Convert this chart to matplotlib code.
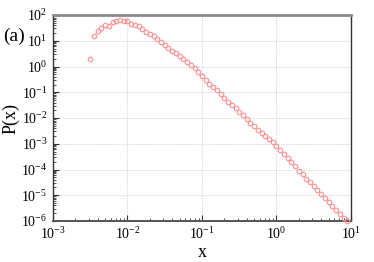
import matplotlib
matplotlib.use("Agg")
import matplotlib.pyplot as plt
from matplotlib.ticker import LogLocator, NullFormatter

plt.rcParams['font.family'] = ['Liberation Serif', 'DejaVu Serif']
plt.rcParams['mathtext.fontset'] = 'custom'
plt.rcParams['mathtext.rm'] = 'Liberation Serif'
plt.rcParams['mathtext.it'] = 'Liberation Serif:italic'

# log-binned distribution
x = [0.00316, 0.00355, 0.00398, 0.00447, 0.00501, 0.00562, 0.00631, 0.00708, 0.00794, 0.00891,
     0.0100, 0.0112, 0.0126, 0.0141, 0.0158, 0.0178, 0.0200, 0.0224, 0.0251, 0.0282,
     0.0316, 0.0355, 0.0398, 0.0447, 0.0501, 0.0562, 0.0631, 0.0708, 0.0794, 0.0891,
     0.100, 0.112, 0.126, 0.141, 0.158, 0.178, 0.200, 0.224, 0.251, 0.282,
     0.316, 0.355, 0.398, 0.447, 0.501, 0.562, 0.631, 0.708, 0.794, 0.891,
     1.00, 1.12, 1.26, 1.41, 1.58, 1.78, 2.00, 2.24, 2.51, 2.82,
     3.16, 3.55, 3.98, 4.47, 5.01, 5.62, 6.31, 7.08, 7.94, 8.91]
p = [1.91, 15.7, 23.9, 31.3, 40.9, 37.4, 55.0, 60.1, 64.0, 60.1,
     58.5, 44.7, 40.9, 36.4, 29.4, 22.4, 18.8, 14.9, 11.4, 8.71,
     6.65, 5.09, 4.11, 3.26, 2.49, 1.91, 1.50, 1.14, 0.851, 0.611,
     0.428, 0.299, 0.209, 0.156, 0.119, 0.0855, 0.0598, 0.0430, 0.0320, 0.0238,
     0.0171, 0.0131, 0.00914, 0.00658, 0.00489, 0.00352, 0.00269, 0.00200, 0.00153, 0.00114,
     8.51e-4, 5.89e-4, 4.07e-4, 2.82e-4, 1.95e-4, 1.32e-4, 9.12e-5, 6.46e-5, 4.47e-5, 3.16e-5,
     2.24e-5, 1.58e-5, 1.12e-5, 7.94e-6, 5.62e-6, 3.89e-6, 2.69e-6, 1.86e-6, 1.32e-6, 1.0e-6]

xticks = [1e-3, 1e-2, 1e-1, 1e0, 1e1]
xticklabels = [r'$10^{-3}$', r'$10^{-2}$', r'$10^{-1}$', r'$10^{0}$', r'$10^{1}$']
yticks = [1e-6, 1e-5, 1e-4, 1e-3, 1e-2, 1e-1, 1e0, 1e1, 1e2]
yticklabels = [r'$10^{-6}$', r'$10^{-5}$', r'$10^{-4}$', r'$10^{-3}$', r'$10^{-2}$',
               r'$10^{-1}$', r'$10^{0}$', r'$10^{1}$', r'$10^{2}$']

fig = plt.figure(figsize=(3.74, 2.62), dpi=100)
ax = fig.add_axes([0.1417, 0.1565, 0.7968, 0.7862])

ax.plot(x, p, 'o', mfc='none', mec='#ff8f8f', ms=3.3, mew=0.8, clip_on=False, zorder=3)

ax.set_xscale('log')
ax.set_yscale('log')
ax.set_xlim(1e-3, 1e1)
ax.set_ylim(1e-6, 1e2)

ax.set_xticks(xticks)
ax.set_xticklabels(xticklabels)
ax.set_yticks(yticks)
ax.set_yticklabels(yticklabels)
ax.xaxis.set_minor_locator(LogLocator(base=10, subs=range(2, 10), numticks=20))
ax.yaxis.set_minor_locator(LogLocator(base=10, subs=range(2, 10), numticks=20))
ax.xaxis.set_minor_formatter(NullFormatter())
ax.yaxis.set_minor_formatter(NullFormatter())

ax.tick_params(which='both', direction='in', top=False, right=False, labelsize=10, colors='#333333',
               labelcolor='black')
ax.tick_params(which='major', length=4, width=0.8, pad=4)
ax.tick_params(which='minor', length=2, width=0.6)

ax.grid(True, which='major', linestyle=(0, (1.5, 1.5)), color='#cfcfcf', linewidth=0.6)

ax.spines['top'].set_color('#8a8a8a')
ax.spines['top'].set_linewidth(2.0)
ax.spines['bottom'].set_color('#555555')
ax.spines['bottom'].set_linewidth(1.4)
ax.spines['left'].set_color('#333333')
ax.spines['left'].set_linewidth(1.0)
ax.spines['right'].set_color('#333333')
ax.spines['right'].set_linewidth(1.0)

ax.set_xlabel('x', fontsize=13, labelpad=1)
ax.set_ylabel('P(x)', fontsize=13, labelpad=1)
fig.text(0.008, 0.843, '(a)', fontsize=14)

fig.savefig('out.png', dpi=100)
